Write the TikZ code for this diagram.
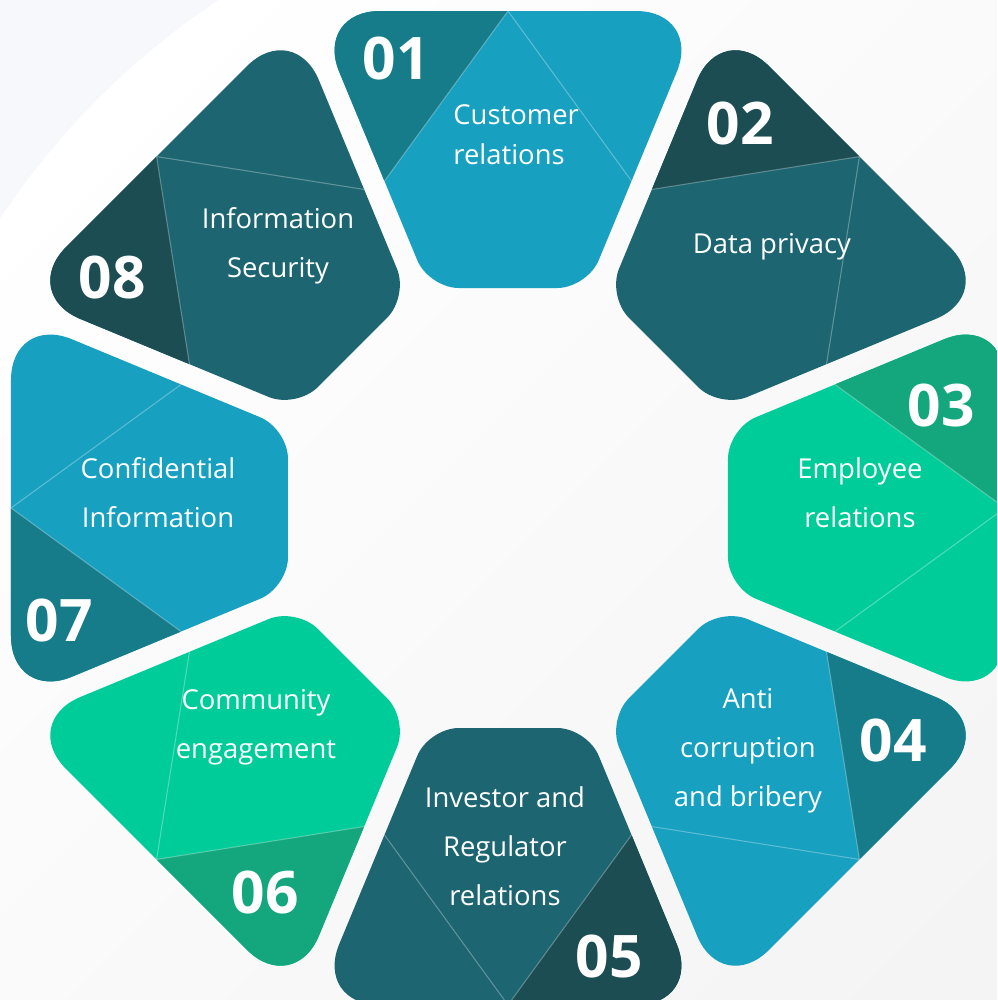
\documentclass[tikz,border=0pt]{standalone}
\usepackage{fontspec}
\setmainfont{Open Sans}

\definecolor{azul}{HTML}{17A0C0}
\definecolor{azuld}{HTML}{177C8A}
\definecolor{petrol}{HTML}{1D6571}
\definecolor{petrold}{HTML}{1B4D52}
\definecolor{menta}{HTML}{00CC9A}
\definecolor{mentad}{HTML}{14A67C}
\definecolor{fondo}{HTML}{F7F8FB}
\definecolor{fondog}{HTML}{F1F1F1}

\tikzset{
  texto/.style={text=white, align=center, font=\fontsize{7.8}{13.9}\selectfont},
  numero/.style={text=white, font=\fontsize{16.7}{18}\selectfont\bfseries},
  faceta/.style={white, opacity=0.3, line width=0.3pt},
}

\begin{document}
\begin{tikzpicture}[x=0.1mm, y=0.1mm]
    % Marco
    \useasboundingbox (-508,-492) rectangle (489,508);
    \clip (-508,-492) rectangle (489,508);

    % Fondo
    \fill[fondo] (-508,-492) rectangle (489,508);
    \shade[top color=white, bottom color=fondog, shading angle=45] (142,-142) circle (780);

    % Piezas del octógono
    \foreach \ang/\col/\sombra in {90/azul/azuld, 45/petrol/petrold, 0/menta/mentad,
        -45/azul/azuld, -90/petrol/petrold, -135/menta/mentad, 180/azul/azuld, 135/petrol/petrold} {
      \begin{scope}[rotate=\ang-90]
        \clip (136.6,358.5) [rounded corners=3mm] -- (79.2,220) -- (-79.2,220)
          -- (-136.6,358.5) [rounded corners=6.6mm] -- (-194,497) -- (194,497) -- cycle;
        \fill[\col] (-300,150) rectangle (300,600);
        \fill[\sombra] (0,600) -- (0,497) -- (-123.5,327) -- (-300,327) -- (-300,600) -- cycle;
        \draw[faceta] (-123.5,327) -- (0,497) -- (123.5,327);
      \end{scope}
    }

    % Números
    \node[numero] (n01) at (-112,449) {01};
    \node[numero] (n02) at (232,384) {02};
    \node[numero] (n03) at (433,102) {03};
    \node[numero] (n04) at (385,-233) {04};
    \node[numero] (n05) at (101,-449) {05};
    \node[numero] (n06) at (-243,-385) {06};
    \node[numero] (n07) at (-449,-113) {07};
    \node[numero] (n08) at (-396,230) {08};

    % Textos
    \node[texto, align=left, anchor=west, font=\fontsize{7.8}{11.4}\selectfont] (t01) at (-67,373) {Customer\\relations};
    \node[texto] (t02) at (264,261) {Data privacy};
    \node[texto] (t03) at (352,15) {Employee\\relations};
    \node[texto] (t04) at (240,-243) {Anti\\corruption\\and bribery};
    \node[texto] (t05) at (-3,-338) {Investor and\\Regulator\\relations};
    \node[texto] (t06) at (-252,-219) {Community\\engagement};
    \node[texto] (t07) at (-350,15) {Confidential\\Information};
    \node[texto] (t08) at (-230,262) {Information\\Security};
\end{tikzpicture}
\end{document}
